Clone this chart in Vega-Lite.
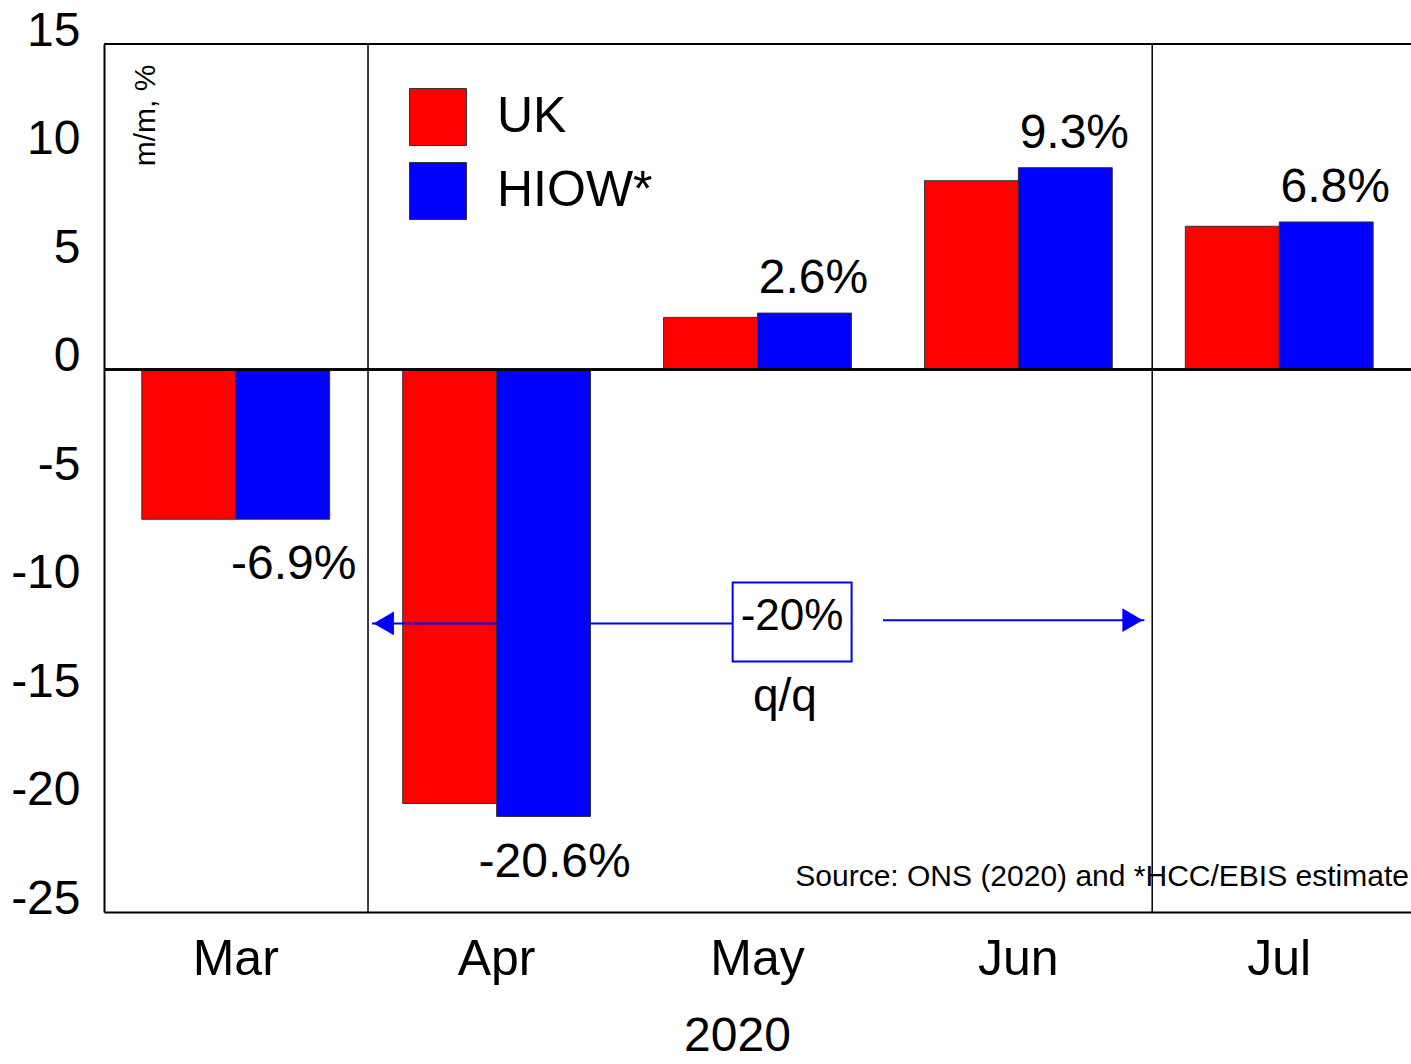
{
  "$schema": "https://vega.github.io/schema/vega-lite/v6.json",
  "autosize": "none",
  "width": 1307,
  "height": 868,
  "padding": {"left": 104, "top": 44, "right": 0, "bottom": 152},
  "background": "white",
  "config": {
    "font": "Liberation Sans, Arial, sans-serif",
    "view": {"stroke": null},
    "text": {"font": "Liberation Sans, Arial, sans-serif"}
  },
  "datasets": {
    "bars": [
      {"month": "Mar", "series": "UK", "value": -6.9, "label": null},
      {"month": "Mar", "series": "HIOW*", "value": -6.9, "label": "-6.9%"},
      {"month": "Apr", "series": "UK", "value": -20.0, "label": null},
      {"month": "Apr", "series": "HIOW*", "value": -20.6, "label": "-20.6%"},
      {"month": "May", "series": "UK", "value": 2.4, "label": null},
      {"month": "May", "series": "HIOW*", "value": 2.6, "label": "2.6%"},
      {"month": "Jun", "series": "UK", "value": 8.7, "label": null},
      {"month": "Jun", "series": "HIOW*", "value": 9.3, "label": "9.3%"},
      {"month": "Jul", "series": "UK", "value": 6.6, "label": null},
      {"month": "Jul", "series": "HIOW*", "value": 6.8, "label": "6.8%"}
    ],
    "arrows": [
      {"x": 1.025, "x2": 2.405, "y": -11.7},
      {"x": 2.98, "x2": 3.98, "y": -11.55}
    ],
    "heads": [
      {"x": 1.07, "y": -11.7, "shape": "triangle-left"},
      {"x": 3.935, "y": -11.55, "shape": "triangle-right"}
    ],
    "box": [{"x": 2.405, "x2": 2.86, "y": -9.82, "y2": -13.46}],
    "dividers": [{"x": 1.01}, {"x": 4.01}],
    "boxtext": [{"x": 2.632, "y": -11.4, "text": "-20%"}],
    "qq": [{"x": 2.605, "y": -15.76, "text": "q/q"}],
    "source": [{"x": 4.992, "y": -23.78, "text": "Source: ONS (2020) and *HCC/EBIS estimate"}]
  },
  "resolve": {"scale": {"x": "independent"}},
  "layer": [
    {
      "data": {"name": "bars"},
      "layer": [
        {
          "mark": {"type": "bar", "stroke": "#333333", "strokeWidth": 1},
          "encoding": {
            "x": {
              "field": "month", "type": "nominal", "sort": ["Mar", "Apr", "May", "Jun", "Jul"],
              "scale": {"paddingInner": 0.28, "paddingOuter": 0.145},
              "axis": {
                "title": "2020", "labelAngle": 0, "labelFontSize": 50, "labelColor": "black",
                "labelBaseline": "alphabetic", "labelPadding": 62, "ticks": false, "tickSize": 0,
                "domainColor": "black", "domainWidth": 2,
                "titleFontSize": 48, "titleFontWeight": "normal", "titleColor": "black",
                "titleX": 633, "titleY": 138, "titleBaseline": "alphabetic", "titleAlign": "center"
              }
            },
            "xOffset": {"field": "series", "type": "nominal", "sort": ["UK", "HIOW*"]},
            "y": {
              "field": "value", "type": "quantitative",
              "scale": {"domain": [-25, 15], "nice": false, "zero": false},
              "axis": {
                "values": [-25, -20, -15, -10, -5, 0, 5, 10, 15],
                "labelExpr": "'' + datum.value",
                "grid": false, "ticks": false, "tickSize": 0,
                "labelFontSize": 48, "labelColor": "black", "labelPadding": 24, "labelOffset": -13,
                "domainColor": "black", "domainWidth": 2,
                "title": "m/m, %", "titleFontSize": 30, "titleFontWeight": "normal", "titleColor": "black",
                "titleAngle": 270, "titleX": 41, "titleY": 71, "titleAlign": "center", "titleBaseline": "middle"
              }
            },
            "color": {
              "field": "series", "type": "nominal",
              "scale": {"domain": ["UK", "HIOW*"], "range": ["#ff0000", "#0000ff"]},
              "legend": {
                "title": null, "orient": "none", "legendX": 305, "legendY": 44,
                "symbolType": "square", "symbolSize": 3249, "symbolStrokeColor": "#333333", "symbolStrokeWidth": 1,
                "symbolOpacity": 1, "labelFontSize": 50, "labelColor": "black", "labelOffset": 30,
                "labelLimit": 400, "rowPadding": 12, "padding": 0
              }
            }
          }
        },
        {
          "mark": {"type": "rule", "color": "black", "strokeWidth": 1.5},
          "encoding": {"y": {"datum": 0, "type": "quantitative", "scale": {"domain": [-25, 15], "nice": false}}}
        },
        {
          "mark": {"type": "rule", "color": "black", "strokeWidth": 2},
          "encoding": {"y": {"datum": 15, "type": "quantitative", "scale": {"domain": [-25, 15], "nice": false}}}
        },
        {
          "transform": [{"filter": "datum.label != null && datum.value > 0"}],
          "mark": {"type": "text", "fontSize": 48, "baseline": "alphabetic", "dy": -20, "dx": 9, "color": "black"},
          "encoding": {
            "x": {"field": "month", "type": "nominal", "sort": ["Mar", "Apr", "May", "Jun", "Jul"]},
            "xOffset": {"field": "series", "type": "nominal", "sort": ["UK", "HIOW*"]},
            "y": {"field": "value", "type": "quantitative", "scale": {"domain": [-25, 15], "nice": false}},
            "text": {"field": "label"}
          }
        },
        {
          "transform": [{"filter": "datum.label != null && datum.value < 0"}],
          "mark": {"type": "text", "fontSize": 48, "baseline": "top", "dy": 22, "dx": 11, "color": "black"},
          "encoding": {
            "x": {"field": "month", "type": "nominal", "sort": ["Mar", "Apr", "May", "Jun", "Jul"]},
            "xOffset": {"field": "series", "type": "nominal", "sort": ["UK", "HIOW*"]},
            "y": {"field": "value", "type": "quantitative", "scale": {"domain": [-25, 15], "nice": false}},
            "text": {"field": "label"}
          }
        }
      ]
    },
    {
      "layer": [
        {
          "data": {"name": "dividers"},
          "mark": {"type": "rule", "color": "black", "strokeWidth": 1.5},
          "encoding": {
            "x": {"field": "x", "type": "quantitative", "scale": {"domain": [0, 5], "nice": false, "zero": false}, "axis": null}
          }
        },
        {
          "data": {"name": "arrows"},
          "mark": {"type": "rule", "color": "#0000ff", "strokeWidth": 2},
          "encoding": {
            "x": {"field": "x", "type": "quantitative", "scale": {"domain": [0, 5], "nice": false, "zero": false}, "axis": null},
            "x2": {"field": "x2"},
            "y": {"field": "y", "type": "quantitative", "scale": {"domain": [-25, 15], "nice": false}}
          }
        },
        {
          "data": {"name": "heads"},
          "mark": {"type": "point", "filled": true, "color": "#0000ff", "opacity": 1, "size": 560},
          "encoding": {
            "x": {"field": "x", "type": "quantitative", "scale": {"domain": [0, 5], "nice": false, "zero": false}, "axis": null},
            "y": {"field": "y", "type": "quantitative", "scale": {"domain": [-25, 15], "nice": false}},
            "shape": {"field": "shape", "type": "nominal", "scale": null, "legend": null}
          }
        },
        {
          "data": {"name": "box"},
          "mark": {"type": "rect", "fill": "white", "stroke": "#0000ff", "strokeWidth": 2},
          "encoding": {
            "x": {"field": "x", "type": "quantitative", "scale": {"domain": [0, 5], "nice": false, "zero": false}, "axis": null},
            "x2": {"field": "x2"},
            "y": {"field": "y", "type": "quantitative", "scale": {"domain": [-25, 15], "nice": false}},
            "y2": {"field": "y2"}
          }
        },
        {
          "data": {"name": "boxtext"},
          "mark": {"type": "text", "color": "black", "fontSize": 44, "align": "center", "baseline": "middle"},
          "encoding": {
            "x": {"field": "x", "type": "quantitative", "scale": {"domain": [0, 5], "nice": false, "zero": false}, "axis": null},
            "y": {"field": "y", "type": "quantitative", "scale": {"domain": [-25, 15], "nice": false}},
            "text": {"field": "text"}
          }
        },
        {
          "data": {"name": "qq"},
          "mark": {"type": "text", "color": "black", "fontSize": 46, "align": "center", "baseline": "alphabetic"},
          "encoding": {
            "x": {"field": "x", "type": "quantitative", "scale": {"domain": [0, 5], "nice": false, "zero": false}, "axis": null},
            "y": {"field": "y", "type": "quantitative", "scale": {"domain": [-25, 15], "nice": false}},
            "text": {"field": "text"}
          }
        },
        {
          "data": {"name": "source"},
          "mark": {"type": "text", "color": "black", "fontSize": 30, "align": "right", "baseline": "alphabetic"},
          "encoding": {
            "x": {"field": "x", "type": "quantitative", "scale": {"domain": [0, 5], "nice": false, "zero": false}, "axis": null},
            "y": {"field": "y", "type": "quantitative", "scale": {"domain": [-25, 15], "nice": false}},
            "text": {"field": "text"}
          }
        }
      ]
    }
  ]
}
